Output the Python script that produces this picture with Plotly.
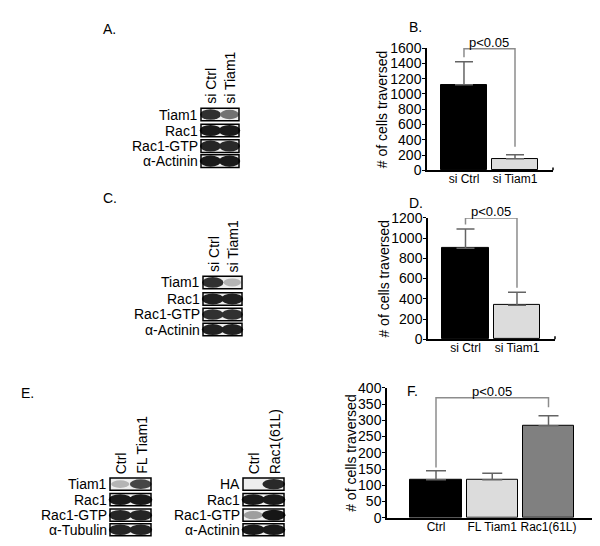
import plotly.graph_objects as go

W, H = 600, 546
FONT = "Liberation Sans, Arial, sans-serif"

# ---------------- data ----------------
b_categories = ["si Ctrl", "si Tiam1"]
b_values = [1120, 150]
b_errors = [300, 55]
b_bracket_top = 1590
b_bracket_legs = [1480, 310]

d_categories = ["si Ctrl", "si Tiam1"]
d_values = [900, 335]
d_errors = [190, 130]
d_bracket_top = 1200
d_bracket_legs = [1135, 510]

f_categories = ["Ctrl", "FL Tiam1", "Rac1(61L)"]
f_values = [117, 117, 283]
f_errors = [28, 20, 31]
f_bracket_top = 369
f_bracket_legs = [155, 340]

b_ticks = [0, 200, 400, 600, 800, 1000, 1200, 1400, 1600]
d_ticks = [0, 200, 400, 600, 800, 1000, 1200]
f_ticks = [0, 50, 100, 150, 200, 250, 300, 350, 400]

y_title = "# of cells traversed"
sig_label = "p<0.05"

# western blot band intensities (0 = no band, 1 = black)
blot_a_rows = ["Tiam1", "Rac1", "Rac1-GTP", "α-Actinin"]
blot_a_lanes = ["si Ctrl", "si Tiam1"]
blot_a_bands = [[0.85, 0.55], [0.95, 0.95], [0.9, 0.88], [0.95, 0.95]]

blot_c_rows = ["Tiam1", "Rac1", "Rac1-GTP", "α-Actinin"]
blot_c_lanes = ["si Ctrl", "si Tiam1"]
blot_c_bands = [[0.85, 0.25], [0.92, 0.92], [0.85, 0.85], [0.92, 0.92]]

blot_e1_rows = ["Tiam1", "Rac1", "Rac1-GTP", "α-Tubulin"]
blot_e1_lanes = ["Ctrl", "FL Tiam1"]
blot_e1_bands = [[0.25, 0.75], [0.95, 0.95], [0.9, 0.9], [0.9, 0.9]]

blot_e2_rows = ["HA", "Rac1", "Rac1-GTP", "α-Actinin"]
blot_e2_lanes = ["Ctrl", "Rac1(61L)"]
blot_e2_bands = [[0.03, 0.88], [0.95, 0.95], [0.35, 0.97], [0.95, 0.95]]

# ---------------- helpers ----------------
def px(x):
    return x / W

def py(y):
    return 1 - y / H

fig = go.Figure()
shapes = []
annotations = []

def gray(v):
    g = int(round(235 * (1 - v) + 15 * v))
    return f"rgb({g},{g},{g})"

def draw_blot(x0, x1, y_tops, row_h, rows, lanes, bands, lane_label_bottom):
    n = len(lanes)
    lw = (x1 - x0) / n
    for r, (name, yt) in enumerate(zip(rows, y_tops)):
        yb = yt + row_h
        shapes.append(dict(type="rect", xref="paper", yref="paper",
                           x0=px(x0), x1=px(x1), y0=py(yb), y1=py(yt),
                           fillcolor="rgb(238,238,238)",
                           line=dict(width=0), layer="above"))
        for l in range(n):
            v = bands[r][l]
            if v < 0.08:
                continue
            cx = x0 + lw * (l + 0.5)
            bw = lw * 0.5 * (0.8 + 0.35 * v)
            bh = row_h * 0.5 * (0.55 + 0.35 * v)
            cy = yt + row_h / 2
            shapes.append(dict(type="circle", xref="paper", yref="paper",
                               x0=px(cx - bw), x1=px(cx + bw),
                               y0=py(cy + bh), y1=py(cy - bh),
                               fillcolor=gray(v), line=dict(width=0),
                               layer="above"))
        shapes.append(dict(type="rect", xref="paper", yref="paper",
                           x0=px(x0), x1=px(x1), y0=py(yb), y1=py(yt),
                           fillcolor="rgba(0,0,0,0)",
                           line=dict(color="black", width=1.5), layer="above"))
        annotations.append(dict(x=px(x0 - 2), y=py(yt + row_h / 2), xref="paper",
                                yref="paper", text=name, showarrow=False,
                                xanchor="right", yanchor="middle", borderpad=0,
                                font=dict(size=14, family=FONT, color="black")))
    for l in range(n):
        cx = x0 + lw * (l + 0.5)
        annotations.append(dict(x=px(cx + 1), y=py(lane_label_bottom), xref="paper",
                                yref="paper", text=lanes[l], showarrow=False,
                                textangle=-90, xanchor="center", yanchor="bottom",
                                font=dict(size=14, family=FONT, color="black")))

draw_blot(193, 231, [95, 111.5, 127.5, 143], 13, blot_a_rows, blot_a_lanes, blot_a_bands, 93)
draw_blot(195, 234, [268, 285, 301, 316.5], 13, blot_c_rows, blot_c_lanes, blot_c_bands, 266)
draw_blot(102, 143, [476, 492, 508, 523], 12.5, blot_e1_rows, blot_e1_lanes, blot_e1_bands, 474)
draw_blot(235, 276, [476, 492, 508, 523], 12.5, blot_e2_rows, blot_e2_lanes, blot_e2_bands, 474)

# ---------------- bar charts ----------------
def bar_panel(idx, cats, vals, errs, colors, xdom, ydom, xr, yr, ticks,
              brk_idx, brk_top, brk_legs, title_x, err_w):
    xa = "x" if idx == 1 else f"x{idx}"
    ya = "y" if idx == 1 else f"y{idx}"
    xs = list(range(len(cats)))
    fig.add_trace(go.Bar(
        x=xs, y=vals, width=0.91, marker=dict(color=colors, line=dict(color="black", width=1)),
        error_y=dict(type="data", array=errs, arrayminus=[0] * len(errs), symmetric=False,
                     color="rgb(100,100,100)", thickness=1.5, width=err_w),
        xaxis=xa, yaxis=ya, showlegend=False, hoverinfo="skip"))
    i0, i1 = brk_idx
    fig.add_trace(go.Scatter(
        x=[xs[i0], xs[i0], xs[i1], xs[i1]],
        y=[brk_legs[0], brk_top, brk_top, brk_legs[1]],
        mode="lines", line=dict(color="rgb(140,140,140)", width=1.5),
        xaxis=xa, yaxis=ya, showlegend=False, hoverinfo="skip"))
    axx = dict(domain=[px(xdom[0]), px(xdom[1])], range=xr, anchor=ya,
               showline=True, linecolor="black", linewidth=1.5, ticks="",
               tickvals=xs, ticktext=cats, showgrid=False, zeroline=False,
               ticklabelstandoff=-3, tickangle=0,
               tickfont=dict(size=12, family=FONT, color="black"))
    axy = dict(domain=[py(ydom[1]), py(ydom[0])], range=yr, anchor=xa,
               showline=True, linecolor="black", linewidth=1.5, ticks="outside",
               ticklen=3, tickwidth=1, tickcolor="black", tickvals=ticks,
               showgrid=False, zeroline=False, ticklabelstandoff=-2,
               tickfont=dict(size=14, family=FONT, color="black"))
    key = "" if idx == 1 else str(idx)
    fig.update_layout(**{f"xaxis{key}": axx, f"yaxis{key}": axy})
    annotations.append(dict(x=(xs[i0] + xs[i1]) / 2, y=brk_top, xref=xa, yref=ya,
                            text=sig_label, showarrow=False, xanchor="center",
                            yanchor="bottom", yshift=-3,
                            font=dict(size=13, family=FONT, color="black")))
    annotations.append(dict(x=px(title_x), y=py((ydom[0] + ydom[1]) / 2), xref="paper",
                            yref="paper", text=y_title, showarrow=False, textangle=-90,
                            xanchor="center", yanchor="middle", borderpad=0,
                            font=dict(size=14, family=FONT, color="black")))
    # small end tick at right of x axis
    shapes.append(dict(type="line", xref="paper", yref="paper",
                       x0=px(xdom[1]), x1=px(xdom[1]), y0=py(ydom[1]), y1=py(ydom[1] - 3),
                       line=dict(color="black", width=1.5)))

bar_panel(1, b_categories, b_values, b_errors, ["black", "rgb(220,220,220)"],
          (419, 545), (33, 159), [-0.725, 1.745], [0, 1600], b_ticks,
          (0, 1), b_bracket_top, b_bracket_legs, 374, 9)
bar_panel(2, d_categories, d_values, d_errors, ["black", "rgb(220,220,220)"],
          (420, 547), (208, 333), [-0.728, 1.738], [0, 1200], d_ticks,
          (0, 1), d_bracket_top, d_bracket_legs, 376, 9)
bar_panel(3, f_categories, f_values, f_errors,
          ["black", "rgb(220,220,220)", "rgb(128,128,128)"],
          (379, 590), (383, 517), [-0.871, 2.88], [0, 400], f_ticks,
          (0, 2), f_bracket_top, f_bracket_legs, 343, 10)

# panel letters
for letter, (lx, ly) in {"A.": (94, 13), "B.": (400, 11), "C.": (94, 188),
                         "D.": (400, 193), "E.": (12, 388), "F.": (398, 386)}.items():
    annotations.append(dict(x=px(lx), y=py(ly), xref="paper", yref="paper", text=letter,
                            showarrow=False, xanchor="left", yanchor="middle", borderpad=0,
                            font=dict(size=14, family=FONT, color="black")))

fig.update_layout(width=W, height=H, margin=dict(l=0, r=0, t=0, b=0),
                  paper_bgcolor="white", plot_bgcolor="white",
                  shapes=shapes, annotations=annotations, showlegend=False,
                  bargap=0)
fig.write_html("out.html")
